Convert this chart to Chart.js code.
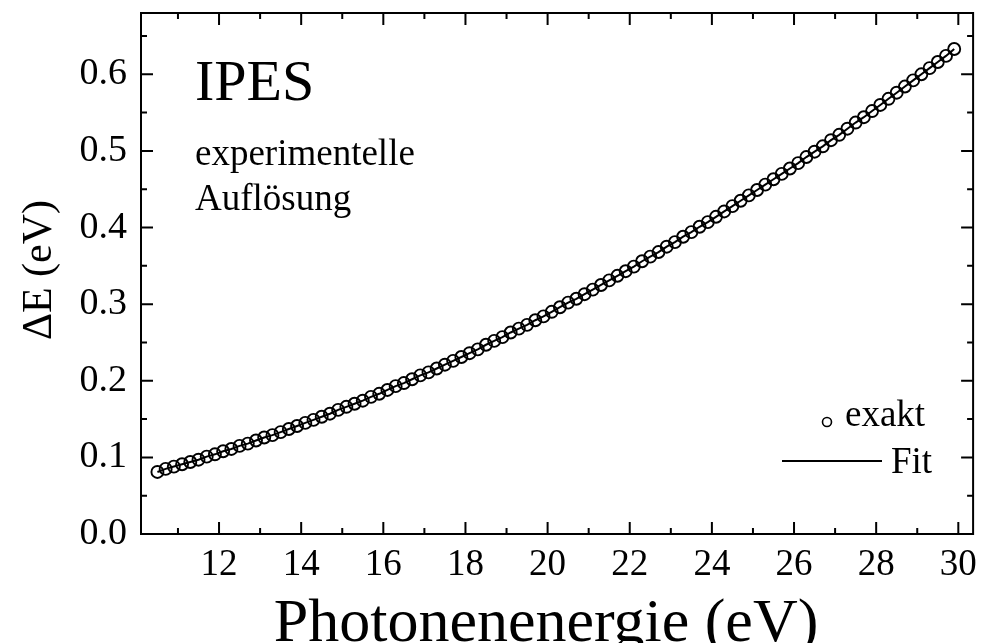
<!DOCTYPE html>
<html lang="de">
<head>
<meta charset="UTF-8" />
<title>IPES – experimentelle Auflösung</title>
<script src="https://cdn.jsdelivr.net/npm/chart.js"></script>
<style>
  html, body { margin: 0; padding: 0; background: #fff; }
</style>
</head>
<body>
<canvas id="chartAufloesung" width="981" height="643"></canvas>

<script>
// Photonenenergie (eV), Schrittweite 0.2 eV
const energie = [
  10.5, 10.7, 10.9, 11.1, 11.3, 11.5, 11.7, 11.9, 12.1, 12.3,
  12.5, 12.7, 12.9, 13.1, 13.3, 13.5, 13.7, 13.9, 14.1, 14.3,
  14.5, 14.7, 14.9, 15.1, 15.3, 15.5, 15.7, 15.9, 16.1, 16.3,
  16.5, 16.7, 16.9, 17.1, 17.3, 17.5, 17.7, 17.9, 18.1, 18.3,
  18.5, 18.7, 18.9, 19.1, 19.3, 19.5, 19.7, 19.9, 20.1, 20.3,
  20.5, 20.7, 20.9, 21.1, 21.3, 21.5, 21.7, 21.9, 22.1, 22.3,
  22.5, 22.7, 22.9, 23.1, 23.3, 23.5, 23.7, 23.9, 24.1, 24.3,
  24.5, 24.7, 24.9, 25.1, 25.3, 25.5, 25.7, 25.9, 26.1, 26.3,
  26.5, 26.7, 26.9, 27.1, 27.3, 27.5, 27.7, 27.9, 28.1, 28.3,
  28.5, 28.7, 28.9, 29.1, 29.3, 29.5, 29.7, 29.9
];

// Auflösung Delta E (eV)
const deltaE = [
  0.081, 0.085, 0.088, 0.091, 0.094, 0.097, 0.101, 0.104, 0.108, 0.111,
  0.115, 0.118, 0.122, 0.126, 0.129, 0.133, 0.137, 0.141, 0.145, 0.149,
  0.153, 0.157, 0.162, 0.166, 0.170, 0.174, 0.179, 0.183, 0.188, 0.193,
  0.197, 0.202, 0.207, 0.211, 0.216, 0.221, 0.226, 0.231, 0.236, 0.241,
  0.247, 0.252, 0.257, 0.263, 0.268, 0.273, 0.279, 0.284, 0.290, 0.296,
  0.302, 0.307, 0.313, 0.319, 0.325, 0.331, 0.337, 0.343, 0.349, 0.356,
  0.362, 0.368, 0.375, 0.381, 0.388, 0.394, 0.401, 0.407, 0.414, 0.421,
  0.428, 0.435, 0.442, 0.449, 0.456, 0.463, 0.470, 0.477, 0.484, 0.492,
  0.499, 0.506, 0.514, 0.521, 0.529, 0.537, 0.544, 0.552, 0.560, 0.568,
  0.576, 0.584, 0.592, 0.600, 0.608, 0.616, 0.624, 0.633
];

const xTicks = [12, 14, 16, 18, 20, 22, 24, 26, 28, 30];
const xMinor = [11, 13, 15, 17, 19, 21, 23, 25, 27, 29];
const yTicks = [0.0, 0.1, 0.2, 0.3, 0.4, 0.5, 0.6];
const yMinor = [0.05, 0.15, 0.25, 0.35, 0.45, 0.55, 0.65];

const serif = '"Liberation Serif", "Times New Roman", serif';
const punkte = energie.map((e, i) => ({ x: e, y: deltaE[i] }));

// Rahmen mit nach innen zeigenden Ticks, Achsentitel, Beschriftung und Legende
const rahmen = {
  id: 'rahmen',
  afterDatasetsDraw(chart) {
    const { ctx, chartArea: a, scales: { x, y } } = chart;
    ctx.save();
    ctx.strokeStyle = '#000';
    ctx.lineWidth = 2;
    ctx.strokeRect(a.left, a.top, a.right - a.left, a.bottom - a.top);

    ctx.beginPath();
    const xMark = (v, len) => {
      const px = x.getPixelForValue(v);
      ctx.moveTo(px, a.bottom); ctx.lineTo(px, a.bottom - len);
      ctx.moveTo(px, a.top); ctx.lineTo(px, a.top + len);
    };
    const yMark = (v, len) => {
      const py = y.getPixelForValue(v);
      ctx.moveTo(a.left, py); ctx.lineTo(a.left + len, py);
      ctx.moveTo(a.right, py); ctx.lineTo(a.right - len, py);
    };
    xTicks.forEach(v => xMark(v, 12));
    xMinor.forEach(v => xMark(v, 6));
    yTicks.forEach(v => yMark(v, 12));
    yMinor.forEach(v => yMark(v, 6));
    ctx.stroke();

    ctx.fillStyle = '#000';
    ctx.textBaseline = 'alphabetic';

    // Achsentitel
    ctx.textAlign = 'center';
    ctx.font = '62px ' + serif;
    ctx.fillText('Photonenenergie (eV)', 546, 641);
    ctx.save();
    ctx.translate(51, 270);
    ctx.rotate(-Math.PI / 2);
    ctx.font = '42px ' + serif;
    ctx.fillText('ΔE (eV)', 0, 0);
    ctx.restore();

    // Textblock oben links
    ctx.textAlign = 'left';
    ctx.font = '58px ' + serif;
    ctx.fillText('IPES', 195, 100);
    ctx.font = '37px ' + serif;
    ctx.fillText('experimentelle', 195, 165);
    ctx.fillText('Auflösung', 195, 210);

    // Legende unten rechts
    ctx.fillText('exakt', 845, 426);
    ctx.fillText('Fit', 891, 473);
    ctx.lineWidth = 1.6;
    ctx.beginPath();
    ctx.arc(827, 422, 4.5, 0, Math.PI * 2);
    ctx.stroke();
    ctx.lineWidth = 2;
    ctx.beginPath();
    ctx.moveTo(782, 461);
    ctx.lineTo(882, 461);
    ctx.stroke();
    ctx.restore();
  }
};

new Chart(document.getElementById('chartAufloesung'), {
  type: 'scatter',
  data: {
    datasets: [
      {
        label: 'Fit',
        data: punkte,
        showLine: true,
        borderColor: '#000',
        borderWidth: 2,
        pointRadius: 0,
        order: 2
      },
      {
        label: 'exakt',
        data: punkte,
        showLine: false,
        pointStyle: 'circle',
        pointRadius: 6,
        pointBorderWidth: 1.9,
        pointBorderColor: '#000',
        pointBackgroundColor: 'rgba(0,0,0,0)',
        order: 1
      }
    ]
  },
  options: {
    responsive: false,
    animation: false,
    layout: { padding: { left: 0, top: 13, right: 6, bottom: 0 } },
    plugins: { legend: { display: false }, tooltip: { enabled: false } },
    scales: {
      x: {
        type: 'linear',
        min: 10.1,
        max: 30.36,
        grid: { display: false, drawTicks: false },
        border: { display: false },
        afterBuildTicks: s => { s.ticks = xTicks.map(v => ({ value: v })); },
        afterFit: s => { s.height = 109; s.paddingLeft = 0; s.paddingRight = 0; },
        ticks: {
          color: '#000',
          padding: 9,
          maxRotation: 0,
          autoSkip: false,
          font: { family: serif, size: 37, lineHeight: 1.2 },
          callback: v => String(v)
        }
      },
      y: {
        min: 0,
        max: 0.68,
        grid: { display: false, drawTicks: false },
        border: { display: false },
        afterBuildTicks: s => { s.ticks = yTicks.map(v => ({ value: v })); },
        afterFit: s => { s.width = 141; s.paddingTop = 0; s.paddingBottom = 0; },
        ticks: {
          color: '#000',
          padding: 14,
          autoSkip: false,
          font: { family: serif, size: 38 },
          callback: v => v.toFixed(1)
        }
      }
    }
  },
  plugins: [rahmen]
});
</script>
</body>
</html>
